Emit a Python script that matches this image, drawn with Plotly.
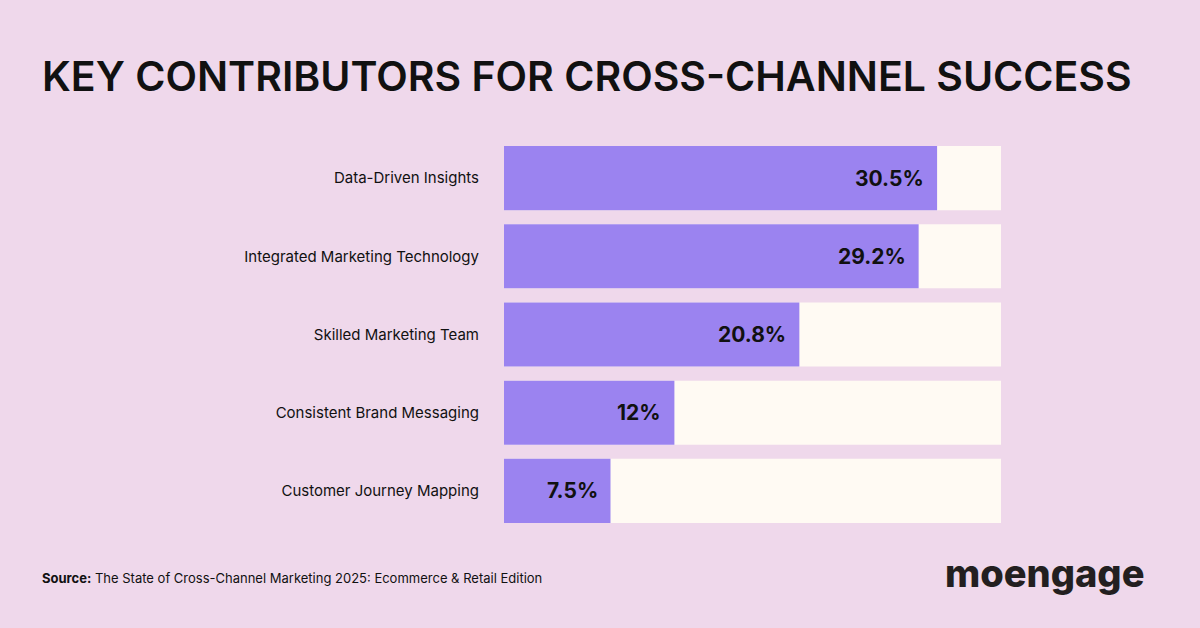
import plotly.graph_objects as go

# chart data
categories = [
    "Data-Driven Insights",
    "Integrated Marketing Technology",
    "Skilled Marketing Team",
    "Consistent Brand Messaging",
    "Customer Journey Mapping",
]
values = [30.5, 29.2, 20.8, 12, 7.5]
value_labels = ["30.5%", "29.2%", "20.8%", "12%", "7.5%"]
track_max = 35

BG = "#efd8eb"
PURPLE = "#9b83f0"
CREAM = "#fffaf3"
INK = "#111111"

# plot area in pixels
PL, PR, PT, PB = 504, 1001, 139, 530


def px(x, y):
    """pixel position -> paper coords"""
    return (x - PL) / (PR - PL), (PB - y) / (PB - PT)


fig = go.Figure()

# cream background track
fig.add_trace(go.Bar(
    y=categories, x=[track_max] * len(categories), orientation="h",
    marker=dict(color=CREAM, line=dict(width=0)),
    hoverinfo="skip", showlegend=False,
))

# purple value bars
fig.add_trace(go.Bar(
    y=categories, x=values, orientation="h",
    marker=dict(color=PURPLE, line=dict(width=0)),
    showlegend=False,
))

# value labels inside the bar end
for cat, v, lbl in zip(categories, values, value_labels):
    fig.add_annotation(
        x=v, y=cat, text=lbl, showarrow=False,
        xanchor="right", xshift=-11,
        font=dict(family="Inter", size=21, color=INK, weight=700),
    )

tx, ty = px(40, 76)
fig.add_annotation(
    x=tx, y=ty, xref="paper", yref="paper", xanchor="left", yanchor="middle",
    text="KEY CONTRIBUTORS FOR CROSS-CHANNEL SUCCESS", showarrow=False,
    font=dict(family="Inter", size=41, color=INK, weight=600),
)

sx, sy = px(40, 578)
fig.add_annotation(
    x=sx, y=sy, xref="paper", yref="paper", xanchor="left", yanchor="middle",
    text="<b>Source:</b> The State of Cross-Channel Marketing 2025: Ecommerce & Retail Edition",
    showarrow=False,
    font=dict(family="Inter", size=13, color=INK),
)

lx, ly = px(1146, 573)
fig.add_annotation(
    x=lx, y=ly, xref="paper", yref="paper", xanchor="right", yanchor="middle",
    text="moengage", showarrow=False,
    font=dict(family="Inter", size=38, color="#231f20", weight=800),
)

fig.update_layout(
    width=1200, height=628,
    paper_bgcolor=BG, plot_bgcolor=BG,
    barmode="overlay", bargap=0.18,
    margin=dict(l=PL, r=1200 - PR, t=PT, b=628 - PB),
    xaxis=dict(range=[0, track_max], visible=False, fixedrange=True),
    yaxis=dict(
        autorange="reversed", showgrid=False, zeroline=False, showline=False,
        ticks="", ticklabelstandoff=24,
        tickfont=dict(family="Inter", size=15, color=INK),
    ),
)

fig.write_html("out.html", config={"displayModeBar": False},
               post_script="document.body.style.margin='0';")
